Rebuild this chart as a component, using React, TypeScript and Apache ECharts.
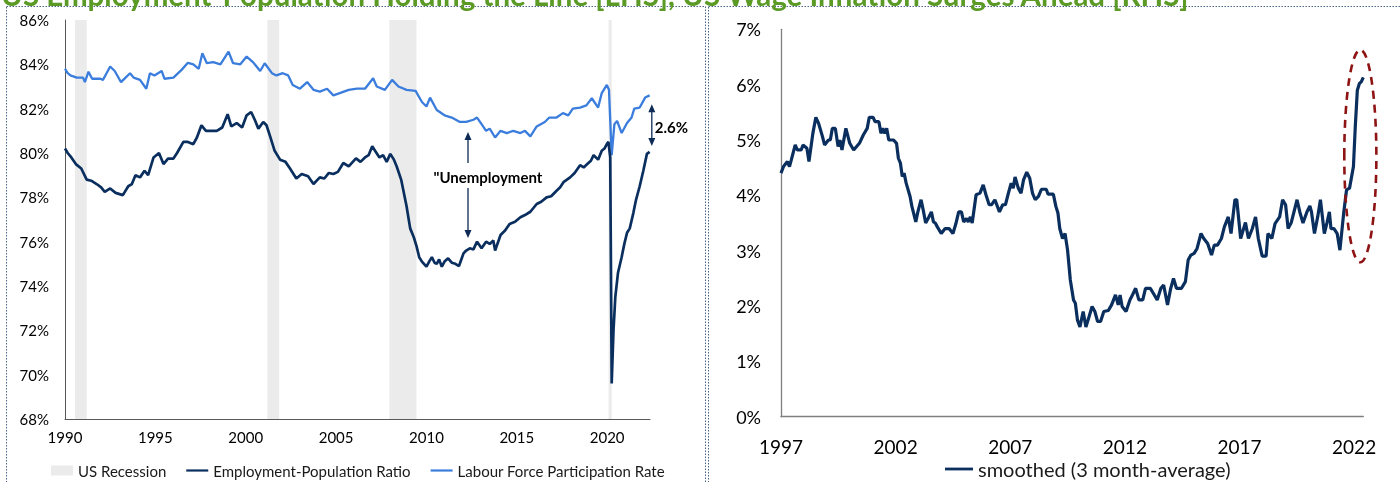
import React, { useEffect, useRef } from 'react';
import * as echarts from 'echarts';

const TITLE = 'US Employment-Population Holding the Line [LHS], US Wage Inflation Surges Ahead [RHS]';
const LEFT_NAMES = ['US Recession', 'Employment-Population Ratio', 'Labour Force Participation Rate'];
const RIGHT_NAME = 'smoothed (3 month-average)';

const leftYearTicks = [1990, 1995, 2000, 2005, 2010, 2015, 2020];
const rightYearTicks = [1997, 2002, 2007, 2012, 2017, 2022];

const recessions: [number, number][] = [
  [1990.55, 1991.2], [2001.2, 2001.85], [2007.95, 2009.45], [2020.08, 2020.25],
];

const epop: [number, number][] = [
  [1990.0, 80.2], [1990.15, 80.0], [1990.35, 79.8], [1990.6, 79.5], [1990.9, 79.3], [1991.2, 78.8],
  [1991.45, 78.75], [1991.75, 78.6], [1992.0, 78.45], [1992.2, 78.25], [1992.5, 78.4], [1992.8, 78.2],
  [1993.2, 78.1], [1993.5, 78.5], [1993.7, 78.6], [1993.9, 79.0], [1994.15, 78.9], [1994.4, 79.2],
  [1994.6, 79.0], [1994.9, 79.8], [1995.2, 80.0], [1995.45, 79.5], [1995.7, 79.75], [1996.0, 79.75],
  [1996.2, 80.0], [1996.55, 80.5], [1996.8, 80.5], [1997.1, 80.4], [1997.3, 80.7], [1997.55, 81.25],
  [1997.8, 81.0], [1998.1, 81.0], [1998.4, 81.0], [1998.7, 81.15], [1999.0, 81.75], [1999.2, 81.2],
  [1999.5, 81.35], [1999.8, 81.15], [2000.05, 81.7], [2000.3, 81.85], [2000.5, 81.5], [2000.7, 81.1],
  [2000.97, 81.4], [2001.15, 81.25], [2001.35, 80.75], [2001.6, 80.1], [2001.9, 79.7], [2002.2, 79.6],
  [2002.45, 79.3], [2002.8, 78.85], [2003.1, 79.05], [2003.45, 78.95], [2003.75, 78.6], [2004.1, 78.9],
  [2004.35, 78.85], [2004.6, 79.1], [2004.85, 79.05], [2005.1, 79.15], [2005.4, 79.55], [2005.7, 79.4],
  [2006.1, 79.76], [2006.35, 79.6], [2006.6, 79.8], [2006.8, 79.9], [2007.0, 80.3], [2007.2, 80.05],
  [2007.4, 79.8], [2007.6, 79.9], [2007.8, 79.6], [2008.0, 79.96], [2008.2, 79.7], [2008.35, 79.4],
  [2008.6, 78.8], [2008.9, 77.6], [2009.1, 76.6], [2009.3, 76.2], [2009.45, 75.8], [2009.6, 75.3],
  [2009.75, 75.1], [2010.0, 74.87], [2010.15, 75.1], [2010.3, 75.3], [2010.45, 75.05], [2010.57, 75.0],
  [2010.7, 75.2], [2010.85, 74.87], [2011.0, 75.1], [2011.2, 75.25], [2011.4, 75.05], [2011.6, 75.0],
  [2011.8, 74.9], [2012.05, 75.47], [2012.2, 75.6], [2012.4, 75.7], [2012.6, 75.65], [2012.8, 76.0],
  [2013.05, 75.7], [2013.3, 76.0], [2013.5, 75.9], [2013.7, 76.05], [2013.8, 75.6], [2014.1, 76.3],
  [2014.35, 76.5], [2014.6, 76.8], [2014.9, 76.9], [2015.2, 77.1], [2015.45, 77.2], [2015.75, 77.35],
  [2016.1, 77.7], [2016.35, 77.8], [2016.65, 78.0], [2016.9, 78.05], [2017.2, 78.3], [2017.4, 78.45],
  [2017.6, 78.7], [2017.95, 78.9], [2018.2, 79.1], [2018.5, 79.45], [2018.7, 79.35], [2018.9, 79.5],
  [2019.1, 79.65], [2019.25, 79.9], [2019.5, 79.7], [2019.7, 80.1], [2019.85, 80.2], [2019.98, 80.4],
  [2020.07, 80.5], [2020.17, 79.8], [2020.25, 69.6], [2020.35, 72.0], [2020.45, 73.5], [2020.6, 74.6],
  [2020.8, 75.3], [2020.95, 75.9], [2021.1, 76.4], [2021.25, 76.6], [2021.45, 77.3], [2021.6, 77.9],
  [2021.8, 78.5], [2022.0, 79.2], [2022.2, 79.96], [2022.35, 80.05],
];

const lfpr: [number, number][] = [
  [1990.0, 83.8], [1990.15, 83.6], [1990.3, 83.5], [1990.65, 83.4], [1991.0, 83.4], [1991.1, 83.2],
  [1991.3, 83.67], [1991.5, 83.35], [1991.95, 83.35], [1992.1, 83.3], [1992.3, 83.6], [1992.5, 83.9],
  [1992.75, 83.7], [1993.1, 83.2], [1993.35, 83.4], [1993.6, 83.6], [1993.8, 83.4], [1994.15, 83.3],
  [1994.5, 82.9], [1994.7, 83.6], [1994.95, 83.5], [1995.35, 83.7], [1995.5, 83.35], [1996.0, 83.4],
  [1996.45, 83.75], [1996.8, 84.07], [1997.1, 84.0], [1997.4, 83.8], [1997.6, 84.5], [1997.85, 84.05],
  [1998.2, 84.1], [1998.6, 84.0], [1999.05, 84.57], [1999.3, 84.05], [1999.7, 84.0], [2000.05, 84.35],
  [2000.4, 84.1], [2000.8, 83.7], [2001.05, 84.05], [2001.45, 83.6], [2001.7, 83.5], [2002.05, 83.6],
  [2002.35, 83.5], [2002.6, 83.07], [2003.0, 82.9], [2003.4, 83.2], [2003.75, 82.85], [2004.1, 82.77],
  [2004.5, 82.9], [2004.85, 82.6], [2005.2, 82.7], [2005.7, 82.85], [2006.15, 82.9], [2006.6, 82.9],
  [2007.05, 83.37], [2007.25, 83.0], [2007.7, 82.85], [2008.1, 83.3], [2008.45, 83.0], [2008.9, 82.85],
  [2009.4, 82.8], [2009.75, 82.3], [2010.0, 82.1], [2010.2, 82.5], [2010.57, 81.94], [2011.0, 81.7],
  [2011.4, 81.6], [2011.85, 81.4], [2012.2, 81.4], [2012.6, 81.5], [2012.8, 81.6], [2013.05, 81.3],
  [2013.3, 81.0], [2013.5, 81.1], [2013.8, 80.7], [2014.1, 81.0], [2014.45, 80.9], [2014.8, 81.0],
  [2015.2, 80.9], [2015.45, 81.0], [2015.75, 80.75], [2016.1, 81.2], [2016.55, 81.4], [2016.8, 81.6],
  [2017.2, 81.6], [2017.55, 81.8], [2017.85, 81.7], [2018.1, 82.0], [2018.5, 82.05], [2018.85, 82.15],
  [2019.15, 82.47], [2019.5, 82.05], [2019.7, 82.7], [2019.98, 83.07], [2020.1, 82.85], [2020.25, 79.9],
  [2020.4, 81.3], [2020.55, 81.45], [2020.8, 80.9], [2021.1, 81.35], [2021.35, 81.6], [2021.5, 82.0],
  [2021.8, 82.05], [2022.1, 82.5], [2022.35, 82.6],
];

const wage: [number, number][] = [
  [1997.0, 4.4], [1997.11, 4.52], [1997.28, 4.61], [1997.37, 4.52], [1997.45, 4.64], [1997.62, 4.91],
  [1997.71, 4.82], [1997.88, 4.82], [1997.96, 4.91], [1998.13, 4.85], [1998.22, 4.61], [1998.39, 5.12],
  [1998.52, 5.41], [1998.64, 5.3], [1998.81, 5.06], [1998.9, 4.91], [1999.07, 5.0], [1999.15, 5.0],
  [1999.24, 5.21], [1999.37, 5.21], [1999.49, 4.88], [1999.57, 5.0], [1999.66, 4.82], [1999.83, 5.21],
  [2000.0, 4.94], [2000.17, 4.82], [2000.42, 4.94], [2000.59, 5.09], [2000.76, 5.21], [2000.85, 5.41],
  [2001.02, 5.41], [2001.1, 5.33], [2001.27, 5.33], [2001.36, 5.12], [2001.44, 5.21], [2001.53, 5.12],
  [2001.61, 5.21], [2001.7, 5.0], [2001.91, 5.0], [2002.04, 4.94], [2002.12, 4.67], [2002.21, 4.58],
  [2002.29, 4.34], [2002.37, 4.4], [2002.46, 4.22], [2002.63, 3.98], [2002.71, 3.8], [2002.88, 3.52],
  [2002.97, 3.7], [2003.11, 3.92], [2003.22, 3.7], [2003.31, 3.5], [2003.45, 3.61], [2003.56, 3.7],
  [2003.65, 3.52], [2003.73, 3.5], [2003.82, 3.43], [2003.99, 3.31], [2004.16, 3.4], [2004.33, 3.4],
  [2004.5, 3.31], [2004.63, 3.49], [2004.75, 3.7], [2004.87, 3.7], [2004.97, 3.52], [2005.09, 3.58],
  [2005.17, 3.52], [2005.26, 3.61], [2005.34, 3.5], [2005.51, 4.01], [2005.68, 4.04], [2005.82, 4.19],
  [2005.94, 4.01], [2006.08, 3.83], [2006.19, 3.83], [2006.33, 3.92], [2006.53, 3.7], [2006.67, 3.83],
  [2006.79, 3.83], [2006.9, 4.01], [2007.04, 4.22], [2007.13, 4.13], [2007.21, 4.33], [2007.35, 4.13],
  [2007.47, 4.04], [2007.58, 4.28], [2007.72, 4.42], [2007.85, 4.31], [2007.97, 4.04], [2008.09, 3.92],
  [2008.23, 3.98], [2008.36, 4.11], [2008.57, 4.11], [2008.65, 4.02], [2008.88, 4.02], [2008.99, 3.8],
  [2009.08, 3.68], [2009.16, 3.4], [2009.28, 3.22], [2009.39, 3.31], [2009.5, 3.01], [2009.62, 2.47],
  [2009.76, 2.11], [2009.84, 2.05], [2009.93, 1.75], [2010.04, 1.62], [2010.18, 1.9], [2010.3, 1.62],
  [2010.44, 1.81], [2010.57, 1.99], [2010.69, 1.9], [2010.81, 1.72], [2010.94, 1.72], [2011.08, 1.9],
  [2011.28, 1.92], [2011.42, 2.02], [2011.59, 2.2], [2011.71, 2.02], [2011.79, 2.2], [2011.88, 1.99],
  [2012.05, 1.9], [2012.22, 2.11], [2012.33, 2.2], [2012.47, 2.32], [2012.61, 2.11], [2012.78, 2.11],
  [2012.9, 2.32], [2013.11, 2.32], [2013.24, 2.23], [2013.41, 2.11], [2013.57, 2.32], [2013.69, 2.38],
  [2013.86, 2.02], [2014.0, 2.32], [2014.12, 2.5], [2014.25, 2.32], [2014.47, 2.32], [2014.64, 2.44],
  [2014.76, 2.83], [2014.88, 2.92], [2015.02, 2.95], [2015.15, 3.04], [2015.32, 3.31], [2015.44, 3.22],
  [2015.61, 3.13], [2015.78, 2.92], [2015.9, 3.1], [2016.04, 3.1], [2016.21, 3.22], [2016.34, 3.43],
  [2016.51, 3.61], [2016.63, 3.31], [2016.8, 3.92], [2016.88, 3.92], [2017.05, 3.22], [2017.26, 3.51],
  [2017.39, 3.22], [2017.56, 3.4], [2017.7, 3.61], [2017.82, 3.22], [2017.99, 2.9], [2018.16, 2.9],
  [2018.24, 3.31], [2018.41, 3.22], [2018.55, 3.49], [2018.75, 3.61], [2018.88, 3.92], [2019.01, 3.83],
  [2019.12, 3.4], [2019.26, 3.51], [2019.51, 3.92], [2019.63, 3.7], [2019.77, 3.5], [2019.94, 3.7],
  [2020.07, 3.81], [2020.14, 3.7], [2020.27, 3.31], [2020.41, 3.61], [2020.53, 3.92], [2020.7, 3.31],
  [2020.82, 3.51], [2020.92, 3.7], [2020.99, 3.4], [2021.12, 3.4], [2021.26, 3.31], [2021.38, 3.01],
  [2021.55, 3.7], [2021.67, 4.1], [2021.8, 4.13], [2021.97, 4.52], [2022.05, 5.24], [2022.14, 5.9],
  [2022.23, 6.02], [2022.31, 6.05], [2022.4, 6.13],
];

// annotations, in data coordinates
const unempArrow = { x: 2012.3, top: 80.95, upperEnd: 79.55, lowerStart: 78.42, bottom: 76.17, labelX: 2013.4, labelY: 78.92, text: '"Unemployment' };
const gapArrow = { x: 2022.47, top: 82.2, bottom: 80.32, labelX: 2022.63, labelY: 81.17, text: '2.6%' };
const surgeEllipse = { cx: 2022.27, cy: 4.71, rx: 0.7, ry: 1.92 };

const FONT = 'Lato';
const NAVY = '#0a2f5e';
const LIGHT = '#3b7ddd';
const ANN = '#0d2b55';
const LINE_ICON = 'path://M0,0 L30,0 L30,3 L0,3 Z';

export default function App() {
  const ref = useRef<HTMLDivElement>(null);
  useEffect(() => {
    if (!ref.current) return;
    const chart = echarts.init(ref.current, null, { renderer: 'svg' });
    const option: any = {
      animation: false,
      textStyle: { fontFamily: FONT },
      grid: [
        { left: 65, top: 20, width: 585, height: 399 },
        { left: 781, top: 29.3, width: 582.3, height: 387.4 },
      ],
      xAxis: [
        {
          type: 'value', gridIndex: 0, min: 1990, max: 2022.37, interval: 5,
          axisLine: { lineStyle: { color: '#595959', width: 1 } },
          axisTick: { show: false }, splitLine: { show: false },
          axisLabel: { margin: 10, fontSize: 15, color: '#000', fontFamily: FONT,
            formatter: (v: number) => (leftYearTicks.includes(v) ? String(v) : '') },
        },
        {
          type: 'value', gridIndex: 1, min: 1997, max: 2022.4, interval: 5,
          axisLine: { lineStyle: { color: '#7f7f7f', width: 1.3 } },
          axisTick: { show: false }, splitLine: { show: false },
          axisLabel: { margin: 20, fontSize: 19, color: '#000', fontFamily: FONT,
            formatter: (v: number) => (rightYearTicks.includes(v) ? String(v) : '') },
        },
      ],
      yAxis: [
        {
          type: 'value', gridIndex: 0, min: 68, max: 86, interval: 2,
          axisLine: { show: true, lineStyle: { color: '#595959', width: 1 } },
          axisTick: { show: false }, splitLine: { show: false },
          axisLabel: { margin: 16, fontSize: 15, color: '#000', fontFamily: FONT, formatter: '{value}%' },
        },
        {
          type: 'value', gridIndex: 1, min: 0, max: 7, interval: 1,
          axisLine: { show: true, lineStyle: { color: '#7f7f7f', width: 1.3 } },
          axisTick: { show: false }, splitLine: { show: false },
          axisLabel: { margin: 20, fontSize: 18, color: '#000', fontFamily: FONT, formatter: '{value}%' },
        },
      ],
      legend: [
        {
          data: [
            { name: LEFT_NAMES[0], icon: 'rect', itemStyle: { color: '#ebebeb' } },
            { name: LEFT_NAMES[1], icon: LINE_ICON, itemStyle: { color: NAVY } },
            { name: LEFT_NAMES[2], icon: LINE_ICON, itemStyle: { color: LIGHT } },
          ],
          left: 46, top: 458, itemWidth: 22, itemHeight: 10, itemGap: 20,
          textStyle: { fontSize: 15, color: '#1a1a1a', fontFamily: FONT },
          selectedMode: false,
        },
        {
          data: [{ name: RIGHT_NAME, icon: LINE_ICON, itemStyle: { color: NAVY } }],
          left: 940, top: 454, itemWidth: 28, itemHeight: 14, itemGap: 10,
          textStyle: { fontSize: 20, color: '#1a1a1a', fontFamily: FONT },
          selectedMode: false,
        },
      ],
      series: [
        {
          name: LEFT_NAMES[0], type: 'line', xAxisIndex: 0, yAxisIndex: 0, data: [], color: '#ebebeb',
          symbol: 'none',
          markArea: {
            silent: true, itemStyle: { color: '#ebebeb' },
            data: recessions.map(([a, b]) => [{ xAxis: a }, { xAxis: b }]),
          },
        },
        {
          name: LEFT_NAMES[2], type: 'line', xAxisIndex: 0, yAxisIndex: 0, data: lfpr, color: LIGHT,
          symbol: 'none', lineStyle: { width: 2.3, color: LIGHT }, z: 3,
        },
        {
          name: LEFT_NAMES[1], type: 'line', xAxisIndex: 0, yAxisIndex: 0, data: epop, color: NAVY,
          symbol: 'none', lineStyle: { width: 2.7, color: NAVY }, z: 4,
        },
        {
          name: RIGHT_NAME, type: 'line', xAxisIndex: 1, yAxisIndex: 1, data: wage, color: NAVY,
          symbol: 'none', lineStyle: { width: 3.2, color: NAVY }, z: 4,
        },
      ],
    };
    chart.setOption(option);

    const px = (g: number, x: number, y: number) => chart.convertToPixel({ gridIndex: g } as any, [x, y]) as number[];
    const g: any[] = [];
    // panel frames and title
    const dotted = { stroke: '#4a6488', lineWidth: 1, lineDash: [1.5, 1.5], fill: 'none' };
    g.push({ type: 'rect', shape: { x: 6.5, y: 6.5, width: 699, height: 520 }, style: dotted, silent: true, z: 10 });
    g.push({ type: 'rect', shape: { x: 708.5, y: 6.5, width: 720, height: 520 }, style: dotted, silent: true, z: 10 });
    g.push({
      type: 'text', x: 1, y: -5.8, silent: true, z: 11,
      style: { text: TITLE, fill: '#5b9a24', fontSize: 29.5, fontWeight: 'bold', fontFamily: FONT, verticalAlign: 'middle', align: 'left' },
    });

    const arrowLine = (x1: number, y1: number, x2: number, y2: number) => ({
      type: 'line', shape: { x1, y1, x2, y2 }, style: { stroke: ANN, lineWidth: 1.3 }, silent: true, z: 20,
    });
    const head = (x: number, y: number, dir: number) => ({
      type: 'polygon', shape: { points: [[x, y], [x - 3.5, y - dir * 8], [x + 3.5, y - dir * 8]] },
      style: { fill: ANN }, silent: true, z: 20,
    });
    // Unemployment arrow
    const a1 = px(0, unempArrow.x, unempArrow.top);
    const a2 = px(0, unempArrow.x, unempArrow.upperEnd);
    const a3 = px(0, unempArrow.x, unempArrow.lowerStart);
    const a4 = px(0, unempArrow.x, unempArrow.bottom);
    g.push(arrowLine(a1[0], a1[1] + 6, a2[0], a2[1]));
    g.push(head(a1[0], a1[1], -1));
    g.push(arrowLine(a3[0], a3[1], a4[0], a4[1] - 6));
    g.push(head(a4[0], a4[1], 1));
    const t1 = px(0, unempArrow.labelX, unempArrow.labelY);
    g.push({
      type: 'text', x: t1[0], y: t1[1], silent: true, z: 21,
      style: { text: unempArrow.text, fill: '#000', fontSize: 15, fontWeight: 'bold', fontFamily: FONT, align: 'center', verticalAlign: 'middle' },
    });
    // 2.6% gap arrow
    const b1 = px(0, gapArrow.x, gapArrow.top);
    const b2 = px(0, gapArrow.x, gapArrow.bottom);
    g.push(arrowLine(b1[0], b1[1] + 6, b2[0], b2[1] - 6));
    g.push(head(b1[0], b1[1], -1));
    g.push(head(b2[0], b2[1], 1));
    const t2 = px(0, gapArrow.labelX, gapArrow.labelY);
    g.push({
      type: 'text', x: t2[0], y: t2[1], silent: true, z: 21,
      style: { text: gapArrow.text, fill: '#000', fontSize: 15, fontWeight: 'bold', fontFamily: FONT, align: 'left', verticalAlign: 'middle' },
    });
    // dashed ellipse on right panel
    const c = px(1, surgeEllipse.cx, surgeEllipse.cy);
    const cr = px(1, surgeEllipse.cx + surgeEllipse.rx, surgeEllipse.cy + surgeEllipse.ry);
    g.push({
      type: 'ellipse', shape: { cx: c[0], cy: c[1], rx: Math.abs(cr[0] - c[0]), ry: Math.abs(c[1] - cr[1]) },
      style: { fill: 'none', stroke: '#8e1414', lineWidth: 2.6, lineDash: [8, 6] }, silent: true, z: 20,
    });
    chart.setOption({ graphic: g });

    return () => chart.dispose();
  }, []);
  return <div ref={ref} style={{ position: 'fixed', left: 0, top: 0, width: 1400, height: 482 }} />;
}
